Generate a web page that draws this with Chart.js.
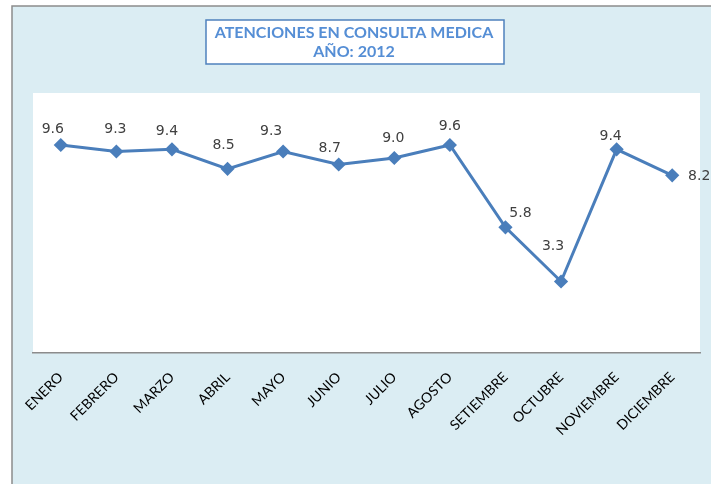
<!DOCTYPE html>
<html>
<head>
<meta charset="utf-8">
<script src="https://cdn.jsdelivr.net/npm/chart.js@4"></script>
<style>
  html, body { margin: 0; padding: 0; background: #ffffff; }
  #wrap { width: 711px; height: 484px; }
</style>
</head>
<body>
<div id="wrap"><canvas id="chart" width="711" height="484"></canvas></div>
<script>
var months = ['ENERO', 'FEBRERO', 'MARZO', 'ABRIL', 'MAYO', 'JUNIO', 'JULIO',
	'AGOSTO', 'SETIEMBRE', 'OCTUBRE', 'NOVIEMBRE', 'DICIEMBRE'];
var attentions = [9.6, 9.3, 9.4, 8.5, 9.3, 8.7, 9.0, 9.6, 5.8, 3.3, 9.4, 8.2];
var titleLines = ['ATENCIONES EN CONSULTA MEDICA', 'AÑO: 2012'];

// label offsets relative to the point (as placed in the original sheet)
var labelDx = [-8, -1, -5, -4, -12, -9, -1, 0, 15, -8, -6, 27];
var labelDy = [-16, -22, -18, -23, -20, -16, -20, -19, -14, -35, -13, 1];

var framePlugin = {
	id: 'frame',
	beforeDraw: function(chart) {
		var ctx = chart.ctx;
		var a = chart.chartArea;
		ctx.save();
		ctx.fillStyle = '#ffffff';
		ctx.fillRect(0, 0, chart.width, chart.height);
		ctx.fillStyle = '#dbedf3';
		ctx.fillRect(12, 6, chart.width - 12, chart.height - 6);
		ctx.strokeStyle = '#8c8c8c';
		ctx.lineWidth = 1.5;
		ctx.beginPath();
		ctx.moveTo(12, chart.height);
		ctx.lineTo(12, 6);
		ctx.lineTo(chart.width, 6);
		ctx.stroke();
		ctx.fillStyle = '#ffffff';
		ctx.fillRect(a.left, a.top, a.right - a.left, a.bottom - a.top);
		// title box
		ctx.fillRect(206, 20, 298, 44);
		ctx.strokeStyle = '#4f81bd';
		ctx.lineWidth = 1.5;
		ctx.strokeRect(206, 20, 298, 44);
		ctx.fillStyle = '#558ed5';
		ctx.font = 'bold 16px Lato';
		ctx.textAlign = 'center';
		ctx.textBaseline = 'middle';
		ctx.fillText(titleLines[0], 354, 33);
		ctx.fillText(titleLines[1], 354, 52);
		ctx.restore();
	},
	afterDatasetsDraw: function(chart) {
		var ctx = chart.ctx;
		var meta = chart.getDatasetMeta(0);
		ctx.save();
		ctx.fillStyle = '#404040';
		ctx.font = '14px "DejaVu Sans"';
		ctx.textAlign = 'center';
		ctx.textBaseline = 'middle';
		meta.data.forEach(function(pt, i) {
			ctx.fillText(attentions[i].toFixed(1), pt.x + labelDx[i], pt.y + labelDy[i]);
		});
		ctx.restore();
	}
};

var ctx = document.getElementById('chart').getContext('2d');
var myChart = new Chart(ctx, {
	type: 'line',
	data: {
		labels: months,
		datasets: [{
			label: 'Atenciones',
			data: attentions,
			borderColor: '#4a7ebb',
			backgroundColor: '#4a7ebb',
			borderWidth: 3,
			pointStyle: 'rectRot',
			pointRadius: 5,
			pointBackgroundColor: '#4a7ebb',
			pointBorderColor: '#4a7ebb',
			tension: 0
		}]
	},
	options: {
		responsive: false,
		animation: false,
		layout: { padding: { left: 33, right: 11, top: 93, bottom: 0 } },
		plugins: {
			legend: { display: false },
			title: { display: false },
			tooltip: { enabled: false }
		},
		scales: {
			x: {
				offset: true,
				grid: { display: false, drawTicks: false },
				border: { display: true, color: '#8c8c8c', width: 1.5 },
				ticks: {
					color: '#000000',
					font: { family: 'Lato', size: 14 },
					maxRotation: 45,
					minRotation: 45,
					autoSkip: false,
					padding: 16
				},
				afterFit: function(scale) { scale.height = 131; }
			},
			y: {
				display: false,
				min: 0,
				max: 12
			}
		}
	},
	plugins: [framePlugin]
});
</script>
</body>
</html>
